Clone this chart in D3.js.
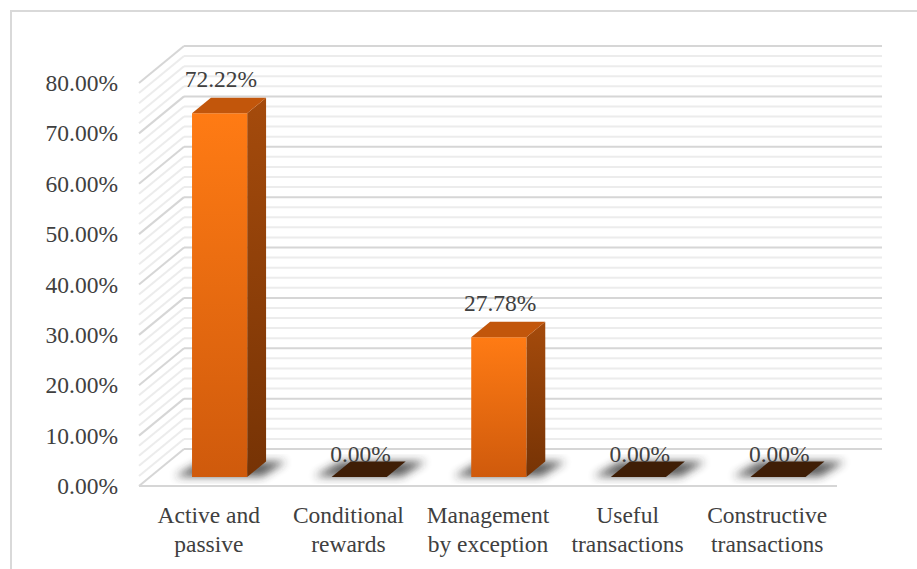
<!DOCTYPE html>
<html>
<head>
<meta charset="utf-8">
<script src="https://cdn.jsdelivr.net/npm/d3@7"></script>
<style>
  html, body { margin: 0; padding: 0; background: #fff; }
  svg { display: block; }
</style>
</head>
<body>
<svg id="chart" width="917" height="569"></svg>
<script>
// Category labels (split into two lines) and their values in percent
const categories = ["Active and passive", "Conditional rewards", "Management by exception", "Useful transactions", "Constructive transactions"];
const categoryLines = [["Active and", "passive"], ["Conditional", "rewards"], ["Management", "by exception"], ["Useful", "transactions"], ["Constructive", "transactions"]];
const values = [72.22, 0.00, 27.78, 0.00, 0.00];
const yTicks = [0, 10, 20, 30, 40, 50, 60, 70, 80];

const FONT = "'Liberation Serif', 'Times New Roman', Times, serif";
const FS = 23.5;
const svg = d3.select("#chart");
const W = 917, H = 569;

// Outer frame
svg.append("rect").attr("x", 11).attr("y", 11).attr("width", W).attr("height", H)
  .attr("fill", "none").attr("stroke", "#d9d9d9").attr("stroke-width", 2);

// Front plane scales; depth is an oblique offset toward the back wall
const x = d3.scaleBand().domain(categories).range([139, 837]);
const y = d3.scaleLinear().domain([0, 80]).range([486, 83]);
const DX = 45, DY = 37;
const proj = (px, v, t) => [px + t * DX, y(v) - t * DY];

const defs = svg.append("defs");
const gFront = defs.append("linearGradient").attr("id", "gFront").attr("x1", 0).attr("y1", 0).attr("x2", 0).attr("y2", 1);
gFront.append("stop").attr("offset", "0%").attr("stop-color", "#ff7b14");
gFront.append("stop").attr("offset", "100%").attr("stop-color", "#cf5a0c");
const gSide = defs.append("linearGradient").attr("id", "gSide").attr("x1", 0).attr("y1", 0).attr("x2", 0).attr("y2", 1);
gSide.append("stop").attr("offset", "0%").attr("stop-color", "#a54b0c");
gSide.append("stop").attr("offset", "100%").attr("stop-color", "#763305");
defs.append("filter").attr("id", "blur").attr("x", "-50%").attr("y", "-50%").attr("width", "200%").attr("height", "200%")
  .append("feGaussianBlur").attr("stdDeviation", 4);

// Wall gridlines: minor every 2%, major every 10%
const gridVals = d3.range(0, 81, 2);
const grid = svg.append("g");
gridVals.forEach(v => {
  const major = v % 10 === 0;
  const col = major ? "#d6d6d6" : "#ececec";
  const [bx0, by] = proj(x.range()[0], v, 1);
  const [bx1] = proj(x.range()[1], v, 1);
  const [fx, fy] = proj(x.range()[0], v, 0);
  grid.append("line").attr("x1", bx0).attr("y1", by).attr("x2", bx1).attr("y2", by)
    .attr("stroke", col).attr("stroke-width", 2);
  grid.append("line").attr("x1", bx0).attr("y1", by).attr("x2", fx).attr("y2", fy)
    .attr("stroke", col).attr("stroke-width", 2);
});
// Floor front edge
grid.append("line").attr("x1", x.range()[0]).attr("y1", y(0)).attr("x2", x.range()[1]).attr("y2", y(0))
  .attr("stroke", "#d6d6d6").attr("stroke-width", 2);

// Y axis labels
const yAxis = d3.axisLeft(y).tickValues(yTicks).tickSize(0).tickPadding(0)
  .tickFormat(d => d3.format(".2f")(d) + "%");
const ya = svg.append("g").attr("transform", "translate(118,0)").call(yAxis)
  .attr("font-family", null).attr("font-size", null);
ya.select(".domain").remove();
ya.selectAll("text").attr("font-size", FS).style("font-family", FONT).attr("fill", "#404040").attr("dy", "0.32em");

// Bars
const T0 = 0.24, T1 = 0.66;
const bw = x.bandwidth() * 0.395;
const bars = svg.append("g");
const pts = a => a.map(p => p.join(",")).join(" ");
categories.forEach((c, i) => {
  const v = values[i];
  const cx = x(c) + x.bandwidth() / 2;
  const xl = cx - bw / 2, xr = cx + bw / 2;
  // floor shadow
  const sh = [proj(xl - 18, 0, T0 + 0.02), proj(xr + 14, 0, T0 + 0.02), proj(xr + 20, 0, T1), proj(xl - 10, 0, T1)];
  bars.append("polygon").attr("points", pts(sh)).attr("fill", "#2a2a2a").attr("opacity", 0.75).attr("filter", "url(#blur)");
  if (v > 0) {
    const front = [proj(xl, v, T0), proj(xr, v, T0), proj(xr, 0, T0), proj(xl, 0, T0)];
    const side = [proj(xr, v, T0), proj(xr, v, T1), proj(xr, 0, T1), proj(xr, 0, T0)];
    const top = [proj(xl, v, T0), proj(xr, v, T0), proj(xr, v, T1), proj(xl, v, T1)];
    bars.append("polygon").attr("points", pts(side)).attr("fill", "url(#gSide)");
    bars.append("polygon").attr("points", pts(front)).attr("fill", "url(#gFront)");
    bars.append("polygon").attr("points", pts(top)).attr("fill", "#c2560b");
  } else {
    const flat = [proj(xl, 0, T0), proj(xr, 0, T0), proj(xr, 0, T1), proj(xl, 0, T1)];
    bars.append("polygon").attr("points", pts(flat)).attr("fill", "#3f1e06");
  }
  // value label
  const [lx] = proj(cx, v, 0.27);
  const [, ly] = proj(cx, v, T1);
  bars.append("text").attr("x", lx).attr("y", v > 0 ? ly - 11 : ly)
    .attr("text-anchor", "middle").attr("font-size", FS).style("font-family", FONT)
    .attr("fill", "#404040").text(d3.format(".2f")(v) + "%");
});

// Category labels
const xl = svg.append("g");
categories.forEach((c, i) => {
  const cx = x(c) + x.bandwidth() / 2;
  const t = xl.append("text").attr("text-anchor", "middle").attr("font-size", FS)
    .style("font-family", FONT).attr("fill", "#404040");
  categoryLines[i].forEach((ln, j) => {
    t.append("tspan").attr("x", cx).attr("y", 523 + j * 28.5).text(ln);
  });
});
</script>
</body>
</html>
